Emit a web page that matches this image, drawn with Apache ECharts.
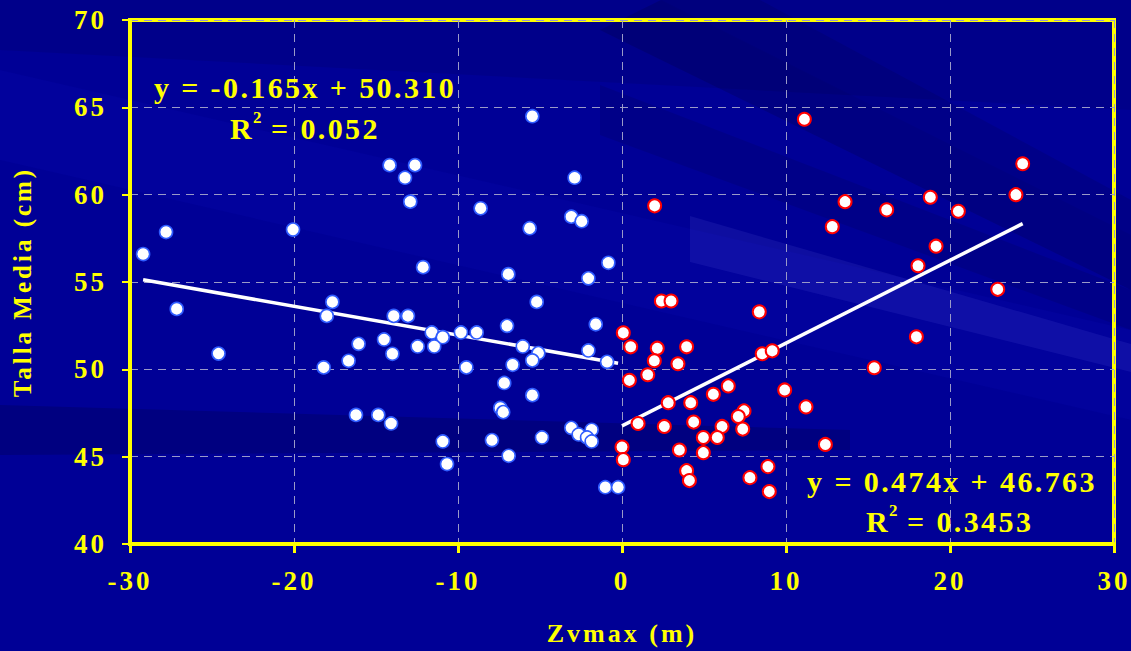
<!DOCTYPE html>
<html>
<head>
<meta charset="utf-8">
<script src="https://cdn.jsdelivr.net/npm/echarts@6/dist/echarts.min.js"></script>
<style>
html,body{margin:0;padding:0;background:#000096;}
#chart{width:1131px;height:651px;}
#chart text{letter-spacing:3px;}
#chart text[style*="30px"]{letter-spacing:2.4px;}
#chart text[style*="17px"]{letter-spacing:0px;}
</style>
</head>
<body>
<div id="chart"></div>
<script>
// ---- data ----
const blueX = [-29.2,-27.8,-27.15,-24.6,-20.06,-17.66,-18.0,-16.06,-16.67,-18.19,-16.22,-14.86,-5.47,-14.17,-12.62,-13.23,-12.91,-2.89,-8.62,-3.09,-2.46,-5.63,-12.13,-6.93,-0.83,-2.05,-5.2,-13.92,-13.05,-1.6,-7.01,-11.6,-10.93,-9.82,-8.86,-14.51,-12.46,-11.45,-14.0,-6.05,-5.1,-5.47,-2.05,-0.91,-9.49,-6.67,-7.18,-5.47,-7.42,-7.24,-14.08,-10.93,-7.93,-4.88,-3.09,-2.64,-1.85,-2.13,-1.85,-6.91,-10.67,-1.02,-0.24];
const blueY = [56.6,57.86,53.46,50.9,58.0,53.86,53.06,51.46,50.49,50.11,47.39,47.39,64.49,61.69,61.69,60.97,59.6,60.97,59.22,58.74,58.48,58.08,55.85,55.45,56.1,55.21,53.86,53.06,53.06,52.58,52.49,52.11,51.84,52.11,52.11,51.71,51.31,51.31,50.89,51.31,50.93,50.51,51.08,50.43,50.11,50.26,49.22,48.52,47.79,47.55,46.9,45.87,45.95,46.1,46.65,46.27,46.54,46.1,45.87,45.05,44.58,43.25,43.25];
const redX = [1.99,13.6,12.82,2.4,2.99,8.37,0.08,0.53,2.15,3.94,1.97,3.41,8.55,9.16,1.57,0.45,6.48,5.57,2.82,4.19,9.92,11.22,7.44,7.09,7.36,0.98,2.58,4.37,6.1,4.96,5.81,3.5,4.96,0.0,0.08,12.4,3.94,4.11,7.8,8.9,8.98,11.12,24.43,24.02,16.14,18.8,20.51,19.15,18.05,22.91,17.95,15.38];
const redY = [59.36,59.6,58.17,53.91,53.91,53.29,52.09,51.29,51.21,51.29,50.49,50.32,50.89,51.06,49.69,49.37,49.05,48.57,48.09,48.09,48.82,47.85,47.62,47.3,46.58,46.9,46.73,46.98,46.73,46.1,46.1,45.38,45.23,45.55,44.83,45.7,44.2,43.63,43.8,44.43,43.0,64.32,61.77,60.0,59.13,59.85,59.05,57.05,55.93,54.58,51.86,50.09];
// trend lines (from the equations printed on the chart)
const blueSlope = -0.165, blueIntercept = 50.310, blueR2 = '0.052';
const redSlope = 0.474, redIntercept = 46.763, redR2 = '0.3453';
const xTicks = [-30,-20,-10,0,10,20,30];
const yTicks = [40,45,50,55,60,65,70];
const xName = 'Zvmax (m)';
const yName = 'Talla Media (cm)';

const FONT = "'Liberation Serif','Times New Roman',serif";
const YEL = '#FFFF00';

function pairs(xs, ys){ return xs.map((x,i)=>[x, ys[i]]); }
function trend(xs, m, b){
  const lo = Math.min(...xs), hi = Math.max(...xs);
  return [[lo, m*lo+b],[hi, m*hi+b]];
}
function fmt(v){ return (v<0?'-':'') + Math.abs(v).toFixed(3); }

const chart = echarts.init(document.getElementById('chart'), null, {renderer:'svg'});
const band = (pts, fill) => ({type:'polygon', z:-100, silent:true, shape:{points:pts}, style:{fill:fill}});
const txt = (x, y, text, size, align) => ({type:'text', z:50, style:{x:x, y:y, text:text, fill:YEL, font:'bold '+size+'px '+FONT, textAlign:align, textVerticalAlign:'middle'}});
// R² written as R + superscript 2 + rest, left edge at x
const r2 = (x, y, val) => [txt(x, y, 'R', 30, 'left'), txt(x+23, y-11, '2', 17, 'left'), txt(x+41, y, '= ' + val, 30, 'left')];
chart.setOption({
  backgroundColor:'#000096',
  animation:false,
  graphic:[
    band([[0,0],[1131,0],[1131,110],[0,50]], 'rgba(0,0,60,0.12)'),
    band([[0,70],[1131,330],[1131,420],[0,160]], 'rgba(40,40,255,0.06)'),
    band([[661,0],[760,0],[1131,200],[1131,235]], 'rgba(0,0,40,0.12)'),
    band([[600,30],[661,0],[1131,235],[1131,290]], 'rgba(0,0,40,0.18)'),
    band([[600,85],[1131,290],[1131,330],[600,135]], 'rgba(0,0,40,0.12)'),
    band([[690,216],[1131,344],[1131,372],[690,262]], 'rgba(140,140,255,0.10)'),
    band([[0,405],[850,430],[850,450],[0,455]], 'rgba(0,0,40,0.20)'),
    txt(305, 87, 'y = ' + fmt(blueSlope) + 'x + ' + blueIntercept.toFixed(3), 30, 'center'),
    ...r2(230, 128, blueR2),
    txt(952, 481, 'y = ' + fmt(redSlope) + 'x + ' + redIntercept.toFixed(3), 30, 'center'),
    ...r2(866, 521, redR2)
  ],
  grid:{left:130, right:17, top:20, bottom:104, show:true, borderColor:YEL, borderWidth:4, backgroundColor:'transparent'},
  xAxis:{
    type:'value', min:xTicks[0], max:xTicks[xTicks.length-1], interval:10,
    name:xName, nameLocation:'middle', nameGap:76,
    nameTextStyle:{color:YEL, fontFamily:FONT, fontWeight:'bold', fontSize:26},
    axisLine:{show:true, onZero:false, lineStyle:{color:YEL, width:4}},
    axisTick:{show:true, length:9, lineStyle:{color:YEL, width:3}},
    axisLabel:{color:YEL, fontFamily:FONT, fontWeight:'bold', fontSize:27, margin:23},
    splitLine:{show:true, lineStyle:{color:'#9a9ac8', width:1, type:[8,6]}}
  },
  yAxis:{
    type:'value', min:yTicks[0], max:yTicks[yTicks.length-1], interval:5,
    name:yName, nameLocation:'middle', nameGap:95,
    nameTextStyle:{color:YEL, fontFamily:FONT, fontWeight:'bold', fontSize:25},
    axisLine:{show:true, onZero:false, lineStyle:{color:YEL, width:4}},
    axisTick:{show:true, length:8, lineStyle:{color:YEL, width:2}},
    axisLabel:{color:YEL, fontFamily:FONT, fontWeight:'bold', fontSize:27, margin:23},
    splitLine:{show:true, lineStyle:{color:'#9a9ac8', width:1, type:[8,6]}}
  },
  series:[
    {type:'line', data:trend(blueX, blueSlope, blueIntercept), symbol:'none', z:3,
     lineStyle:{color:'#ffffff', width:3.5}},
    {type:'line', data:trend(redX, redSlope, redIntercept), symbol:'none', z:3,
     lineStyle:{color:'#ffffff', width:3.5}},
    {type:'scatter', data:pairs(blueX, blueY), symbol:'circle', symbolSize:13, z:4,
     itemStyle:{color:'#ffffff', borderColor:'#2f5cff', borderWidth:1.6, opacity:1}},
    {type:'scatter', data:pairs(redX, redY), symbol:'circle', symbolSize:13, z:4,
     itemStyle:{color:'#ffffff', borderColor:'#ff0000', borderWidth:2, opacity:1}}
  ]
});
</script>
</body>
</html>
